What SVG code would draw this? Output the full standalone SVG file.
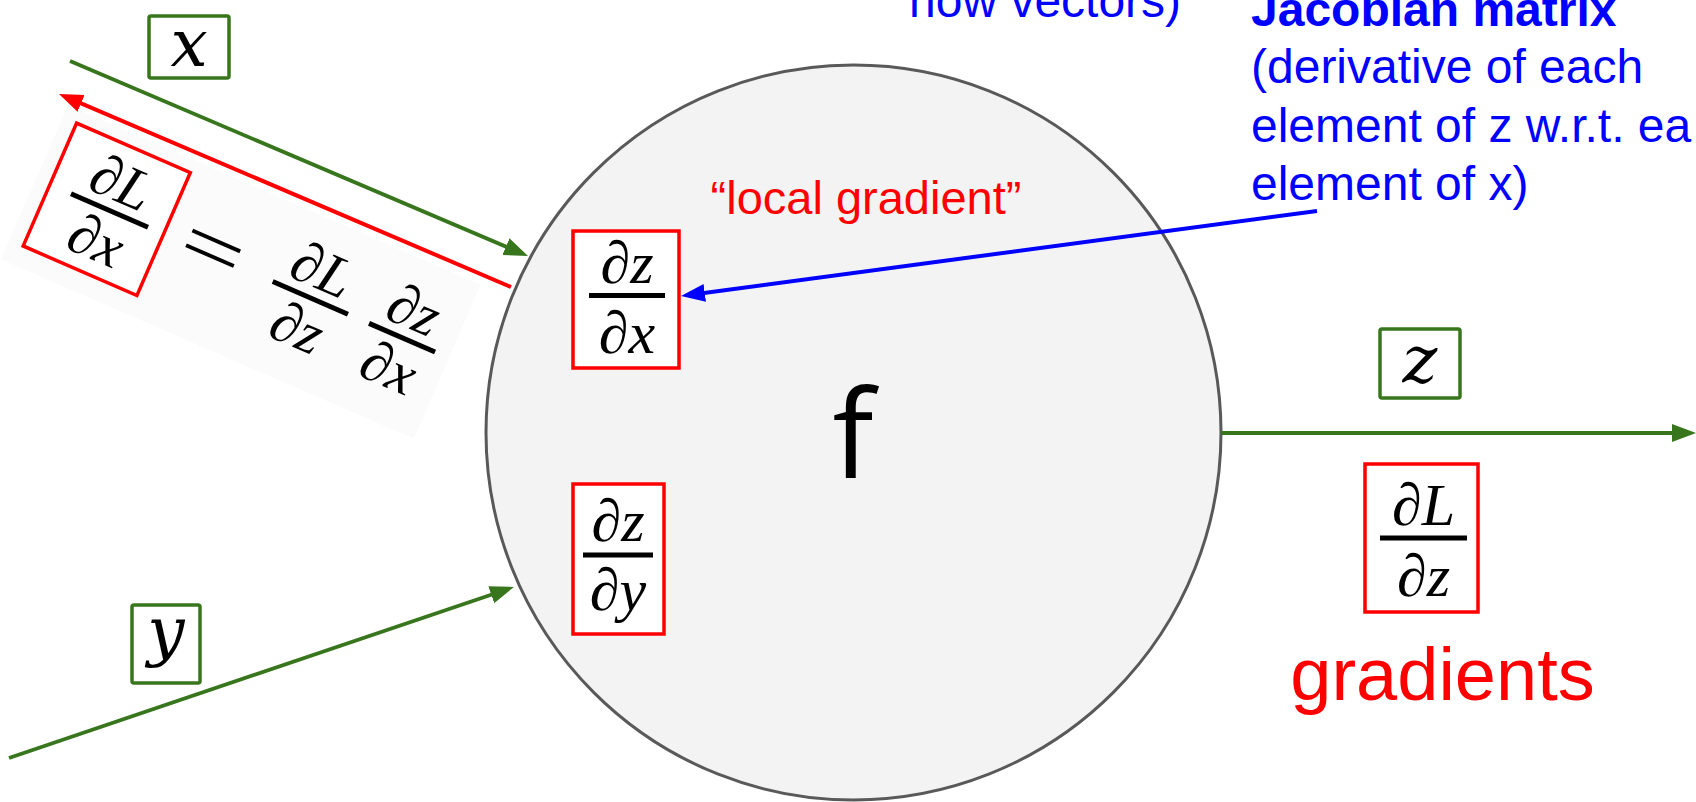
<svg xmlns="http://www.w3.org/2000/svg" width="1696" height="802" viewBox="0 0 1696 802">
  <style>
    .sans { font-family: "Liberation Sans", Arial, sans-serif; }
    .blue { fill: #0000ff; font-size: 48px; }
    .red { fill: #ff0000; }
    .math { font-family: "Liberation Serif", "Times New Roman", serif; font-style: italic; fill: #000; }
    .var { font-family: "DejaVu Serif", "Liberation Serif", serif; font-style: italic; fill: #000; }
    .gbox { fill: #ffffff; stroke: #38761d; stroke-width: 3.5; }
    .rbox { fill: #ffffff; stroke: #ff0000; stroke-width: 3.5; }
    .bar { stroke: #000; stroke-width: 5; }
    .g-line { stroke: #38761d; stroke-width: 3.8; fill: none; }
    .r-line { stroke: #ff0000; stroke-width: 4; fill: none; }
    .b-line { stroke: #0000ff; stroke-width: 4; fill: none; }
  </style>
  <defs>
    <marker id="ah-green" markerUnits="userSpaceOnUse" markerWidth="26" markerHeight="20" refX="14" refY="9" orient="auto">
      <path d="M0,0 L24,9 L0,18 Z" fill="#38761d"/>
    </marker>
    <marker id="ah-red" markerUnits="userSpaceOnUse" markerWidth="26" markerHeight="20" refX="14" refY="9" orient="auto">
      <path d="M0,0 L24,9 L0,18 Z" fill="#ff0000"/>
    </marker>
    <marker id="ah-blue" markerUnits="userSpaceOnUse" markerWidth="26" markerHeight="20" refX="14" refY="9" orient="auto">
      <path d="M0,0 L24,9 L0,18 Z" fill="#0000ff"/>
    </marker>
  </defs>

  <rect x="0" y="0" width="1696" height="802" fill="#ffffff"/>

  <!-- rotated chain-rule equation -->
  <g id="equation" transform="translate(109.5,210.5) rotate(23.5)">
    <rect x="-80" y="-80" width="450" height="168" fill="#fbfbfb"/>
    <rect class="rbox" x="-65" y="-67" width="124" height="134"/>
    <g id="eq-dLdx">
      <text class="math" x="0" y="-11" font-size="58" text-anchor="middle">∂L</text>
      <line class="bar" x1="-42" y1="0" x2="42" y2="0" stroke-width="6"/>
      <text class="math" x="0" y="52" font-size="58" text-anchor="middle">∂x</text>
    </g>
    <text class="math" font-size="80" text-anchor="middle" transform="translate(110,20) scale(1.4,1)" style="font-style:normal">=</text>
    <g id="eq-dLdz" transform="translate(219,0)">
      <text class="math" x="0" y="-11" font-size="58" text-anchor="middle">∂L</text>
      <line class="bar" x1="-41" y1="0" x2="41" y2="0" stroke-width="6"/>
      <text class="math" x="0" y="52" font-size="58" text-anchor="middle">∂z</text>
    </g>
    <g id="eq-dzdx" transform="translate(319,0)">
      <text class="math" x="0" y="-11" font-size="58" text-anchor="middle">∂z</text>
      <line class="bar" x1="-36" y1="0" x2="36" y2="0" stroke-width="6"/>
      <text class="math" x="0" y="52" font-size="58" text-anchor="middle">∂x</text>
    </g>
  </g>

  <!-- node f -->
  <g id="node-f">
    <circle cx="853.5" cy="432.5" r="367.5" fill="#f3f3f3" stroke="#595959" stroke-width="3"/>
    <text x="853" y="478" font-family="'Open Sans', 'Liberation Sans', sans-serif" font-size="122" text-anchor="middle" fill="#000">f</text>
  </g>

  <!-- local gradient label -->
  <g id="label-local-gradient">
    <text class="sans red" x="866" y="214" font-size="47" text-anchor="middle">“local gradient”</text>
  </g>

  <!-- dz/dx -->
  <g id="node-dzdx">
    <rect class="rbox" x="573" y="231" width="106" height="137"/>
    <text class="math" x="627" y="283" font-size="60" text-anchor="middle">∂z</text>
    <line class="bar" x1="589" y1="295.5" x2="665" y2="295.5"/>
    <text class="math" x="627" y="353" font-size="60" text-anchor="middle">∂x</text>
  </g>

  <!-- dz/dy -->
  <g id="node-dzdy">
    <rect class="rbox" x="573" y="484" width="91" height="150"/>
    <text class="math" x="618" y="541" font-size="60" text-anchor="middle">∂z</text>
    <line class="bar" x1="583" y1="555" x2="653" y2="555"/>
    <text class="math" x="618" y="610" font-size="60" text-anchor="middle">∂y</text>
  </g>

  <!-- x label -->
  <g id="node-x">
    <rect class="gbox" x="149" y="16" width="80" height="62" rx="2"/>
    <text class="var" x="189" y="66" font-size="66" text-anchor="middle">x</text>
  </g>

  <!-- y label -->
  <g id="node-y">
    <rect class="gbox" x="132" y="605" width="68" height="78" rx="2"/>
    <text class="var" x="166" y="653" font-size="66" text-anchor="middle">y</text>
  </g>

  <!-- z label -->
  <g id="node-z">
    <rect class="gbox" x="1380" y="329" width="80" height="69" rx="2"/>
    <text class="var" x="1420" y="382" font-size="66" text-anchor="middle">z</text>
  </g>

  <!-- dL/dz -->
  <g id="node-dLdz">
    <rect class="rbox" x="1365" y="464" width="113" height="148"/>
    <text class="math" x="1423.5" y="525" font-size="60" text-anchor="middle">∂L</text>
    <line class="bar" x1="1380" y1="538" x2="1467" y2="538" stroke-width="6"/>
    <text class="math" x="1423.5" y="596" font-size="60" text-anchor="middle">∂z</text>
  </g>

  <!-- gradients label -->
  <g id="label-gradients">
    <text class="sans red" x="1442.5" y="700" font-size="74" text-anchor="middle">gradients</text>
  </g>

  <!-- blue annotations -->
  <g id="label-vectors">
    <text class="sans blue" x="909" y="17">now vectors)</text>
  </g>
  <g id="label-jacobian">
    <text class="sans blue" x="1251" y="26" font-weight="bold">Jacobian matrix</text>
    <text class="sans blue" x="1251" y="83">(derivative of each</text>
    <text class="sans blue" x="1251" y="142">element of z w.r.t. ea</text>
    <text class="sans blue" x="1251" y="200">element of x)</text>
  </g>

  <!-- connectors -->
  <g id="connectors">
    <line class="g-line" x1="70" y1="61" x2="518.8" y2="252.1" marker-end="url(#ah-green)"/>
    <line class="r-line" x1="511" y1="287" x2="68.2" y2="97.9" marker-end="url(#ah-red)"/>
    <line class="g-line" x1="9" y1="758" x2="504.5" y2="590.2" marker-end="url(#ah-green)"/>
    <line class="g-line" x1="1221" y1="433" x2="1686" y2="433" marker-end="url(#ah-green)"/>
    <line class="b-line" x1="1317" y1="211" x2="690.9" y2="294.7" marker-end="url(#ah-blue)"/>
  </g>
</svg>
